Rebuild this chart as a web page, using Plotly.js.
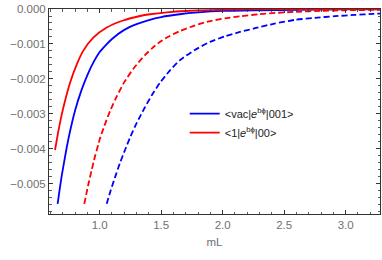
<!DOCTYPE html>
<html>
<head>
<meta charset="utf-8">
<script src="https://cdn.plot.ly/plotly-3.0.1.min.js"></script>
<style>html,body{margin:0;padding:0;background:#fff;}#chart{width:382px;height:260px;}</style>
</head>
<body>
<div id="chart"></div>
<script>
// Blue solid: <vac|e^{bφ}|001>
const blueSolidX = [0.658, 0.675, 0.691, 0.71, 0.732, 0.76, 0.80, 0.85, 0.90, 0.95, 1.0, 1.05, 1.1, 1.2, 1.3, 1.4, 1.5, 1.65, 1.8, 2.0, 2.3, 2.6, 3.0, 3.28];
const blueSolidY = [-0.00557, -0.00515, -0.00478, -0.00439, -0.00396, -0.00348, -0.00290, -0.00234, -0.00189, -0.00152, -0.00123, -0.00103, -0.000856, -0.000597, -0.000434, -0.000315, -0.000229, -0.00015, -0.000099, -0.000056, -0.000036, -0.000023, -0.0000125, -0.000008];
// Red solid: <1|e^{bφ}|00>
const redSolidX = [0.637, 0.66, 0.69, 0.72, 0.758, 0.813, 0.867, 0.948, 1.057, 1.19, 1.328, 1.409, 1.55, 1.70, 1.90, 2.2, 2.6, 3.0, 3.28];
const redSolidY = [-0.00403, -0.00357, -0.00304, -0.0026, -0.00212, -0.00159, -0.00119, -0.00082, -0.00053, -0.000329, -0.0002, -0.00015, -0.000094, -0.000057, -0.0000295, -0.000011, -0.000003, -0.0000008, -0.0000003];
// Red dashed
const redDashX = [0.875, 0.905, 0.935, 0.96, 0.989, 1.0, 1.03, 1.084, 1.14, 1.2, 1.28, 1.368, 1.43, 1.5, 1.57, 1.653, 1.77, 1.9, 2.02, 2.14, 2.30, 2.45, 2.6, 2.8, 3.0, 3.28];
const redDashY = [-0.00557, -0.00506, -0.00460, -0.00424, -0.00387, -0.00373, -0.00342, -0.00292, -0.00249, -0.00209, -0.00168, -0.00132, -0.00111, -0.000916, -0.00077, -0.00063, -0.000473, -0.000344, -0.000267, -0.000208, -0.000148, -0.000108, -0.000079, -0.000054, -0.000037, -0.000022];
// Blue dashed
const blueDashX = [1.057, 1.09, 1.124, 1.165, 1.206, 1.25, 1.287, 1.33, 1.368, 1.43, 1.49, 1.57, 1.653, 1.77, 1.897, 2.02, 2.14, 2.263, 2.42, 2.588, 2.75, 2.913, 3.07, 3.225, 3.28];
const blueDashY = [-0.00557, -0.00518, -0.00482, -0.00440, -0.00403, -0.00365, -0.00336, -0.00306, -0.00281, -0.00243, -0.00211, -0.00176, -0.00146, -0.00118, -0.00094, -0.00078, -0.000657, -0.00055, -0.000417, -0.00031, -0.000253, -0.000206, -0.00017, -0.00014, -0.000131];

const legendNames = ['&lt;vac|<i>e</i><sup>bϕ</sup>|001&gt;', '&lt;1|<i>e</i><sup>bϕ</sup>|00&gt;'];
const xTitle = 'mL';

const BLUE = 'rgb(0,0,255)', RED = 'rgb(255,0,0)';
const lw = 1.8;
const traces = [
  {x: blueSolidX, y: blueSolidY, mode: 'lines', name: legendNames[0], line: {color: BLUE, width: lw, shape: 'spline', smoothing: 0.6}},
  {x: redSolidX, y: redSolidY, mode: 'lines', name: legendNames[1], line: {color: RED, width: lw, shape: 'spline', smoothing: 0.6}},
  {x: redDashX, y: redDashY, mode: 'lines', showlegend: false, line: {color: RED, width: lw, dash: '6px,3px', shape: 'spline', smoothing: 0.6}},
  {x: blueDashX, y: blueDashY, mode: 'lines', showlegend: false, line: {color: BLUE, width: lw, dash: '6px,3px', shape: 'spline', smoothing: 0.6}}
];

const tickFont = {family: 'Liberation Sans, Arial, sans-serif', size: 11.5, color: '#707070'};
const frameColor = '#333333';
const layout = {
  width: 382, height: 260,
  margin: {l: 49, r: 2, t: 9, b: 46},
  paper_bgcolor: '#fff', plot_bgcolor: '#fff',
  showlegend: true,
  legend: {x: 0.41, y: 0.56, xanchor: 'left', yanchor: 'top', bgcolor: 'rgba(0,0,0,0)',
           font: {family: 'Liberation Sans, Arial, sans-serif', size: 11, color: '#222'},
           tracegroupgap: 0, itemwidth: 30},
  xaxis: {
    range: [0.588, 3.279], showgrid: false, zeroline: false,
    showline: true, mirror: 'allticks', linecolor: frameColor, linewidth: 1,
    ticks: 'inside', ticklen: 4, tickcolor: frameColor, tickwidth: 1,
    tick0: 0, dtick: 0.5, tickformat: '.1f', tickfont: tickFont,
    minor: {dtick: 0.1, ticks: 'inside', ticklen: 2.5, tickcolor: frameColor, tickwidth: 0.8, showgrid: false},
    title: {text: xTitle, font: {family: 'Liberation Sans, Arial, sans-serif', size: 11.5, color: '#707070'}, standoff: 8}
  },
  yaxis: {
    range: [-0.00586, 0], showgrid: false, zeroline: false,
    showline: true, mirror: 'allticks', linecolor: frameColor, linewidth: 1,
    ticks: 'inside', ticklen: 4, tickcolor: frameColor, tickwidth: 1,
    tick0: 0, dtick: 0.001, tickformat: '.3f', tickfont: tickFont,
    minor: {dtick: 0.0002, ticks: 'inside', ticklen: 2.5, tickcolor: frameColor, tickwidth: 0.8, showgrid: false}
  }
};
Plotly.newPlot('chart', traces, layout, {staticPlot: true, displayModeBar: false});
</script>
</body>
</html>
